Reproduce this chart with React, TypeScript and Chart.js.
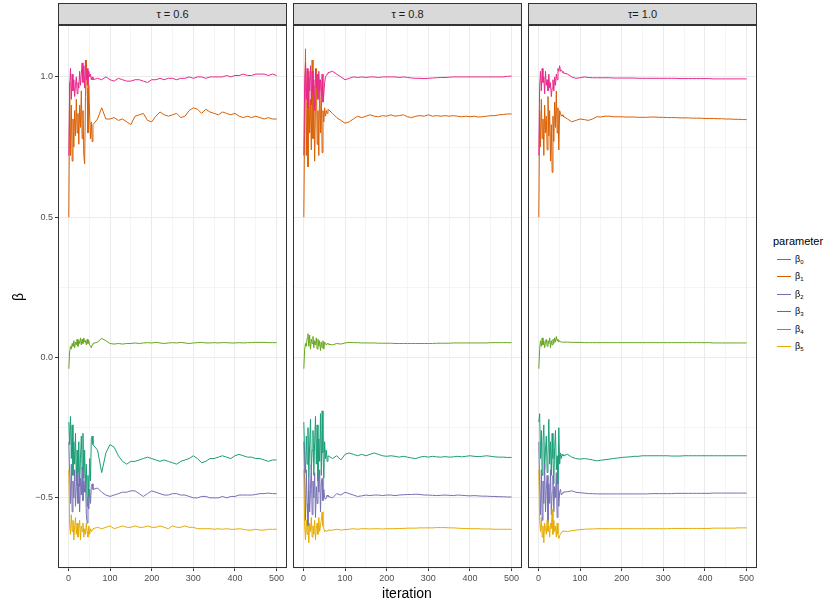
import React, { useEffect, useRef } from "react";
import { Chart, registerables } from "chart.js";

Chart.register(...registerables);

// iteration index (dense early, every 10 later)
const ITERATION = [
  1, 3, 5, 7, 9, 11, 13, 15, 17, 19, 21, 23, 25, 27, 29, 31, 33, 35, 37, 39, 41, 43, 45, 47, 49, 51, 53, 55, 57, 59,
  70, 80, 90, 100, 110, 120, 130, 140, 150, 160,
  170, 180, 190, 200, 210, 220, 230, 240, 250, 260,
  270, 280, 290, 300, 310, 320, 330, 340, 350, 360,
  370, 380, 390, 400, 410, 420, 430, 440, 450, 460,
  470, 480, 490, 500,
];

const PARAMETERS = ["0", "1", "2", "3", "4", "5"];
const COLORS = ["#1B9E77", "#D95F02", "#7570B3", "#E7298A", "#66A61E", "#E6AB02"];
const PANEL_LABELS = ["τ = 0.6", "τ = 0.8", "τ= 1.0"];
const Y_TICKS = [-0.75, -0.5, -0.25, 0, 0.25, 0.5, 0.75, 1.0];
const X_TICKS = [0, 50, 100, 150, 200, 250, 300, 350, 400, 450, 500];

// ---- tau = 0.6 ----
const T06_B0 = [
  -0.23, -0.31, -0.21, -0.36, -0.24, -0.42, -0.30, -0.38, -0.27, -0.44,
  -0.33, -0.41, -0.30, -0.46, -0.36, -0.28, -0.40, -0.27, -0.43, -0.33,
  -0.48, -0.38, -0.53, -0.42, -0.50, -0.36, -0.44, -0.29, -0.28, -0.31,
  -0.33, -0.41, -0.34, -0.31, -0.32, -0.35, -0.37, -0.38, -0.37, -0.37,
  -0.365, -0.36, -0.355, -0.36, -0.365, -0.37, -0.365, -0.37, -0.375, -0.38,
  -0.37, -0.365, -0.36, -0.35, -0.36, -0.375, -0.37, -0.36, -0.36, -0.355,
  -0.35, -0.355, -0.36, -0.35, -0.345, -0.35, -0.355, -0.355, -0.36, -0.36,
  -0.365, -0.37, -0.365, -0.365,
];
const T06_B1 = [
  0.50, 0.98, 0.72, 0.90, 0.70, 0.85, 0.75, 0.88, 0.79, 0.92,
  0.80, 0.87, 0.76, 0.90, 0.82, 0.95, 0.78, 0.88, 0.72, 0.69,
  0.93, 1.06, 0.96, 0.80, 0.97, 0.86, 0.78, 0.84, 0.77, 0.83,
  0.85, 0.89, 0.85, 0.85, 0.855, 0.845, 0.85, 0.84, 0.83, 0.86,
  0.865, 0.87, 0.845, 0.84, 0.86, 0.875, 0.865, 0.86, 0.865, 0.87,
  0.855, 0.86, 0.88, 0.89, 0.885, 0.87, 0.885, 0.875, 0.87, 0.865,
  0.875, 0.87, 0.865, 0.87, 0.86, 0.855, 0.86, 0.855, 0.86, 0.855,
  0.85, 0.855, 0.85, 0.85,
];
const T06_B2 = [
  -0.30, -0.42, -0.52, -0.38, -0.55, -0.44, -0.50, -0.40, -0.53, -0.46,
  -0.41, -0.52, -0.45, -0.55, -0.43, -0.49, -0.39, -0.51, -0.44, -0.48,
  -0.42, -0.56, -0.59, -0.50, -0.54, -0.47, -0.52, -0.46, -0.45, -0.47,
  -0.465, -0.48, -0.49, -0.495, -0.49, -0.485, -0.48, -0.48, -0.475, -0.475,
  -0.485, -0.495, -0.485, -0.475, -0.48, -0.485, -0.49, -0.49, -0.485, -0.485,
  -0.49, -0.49, -0.495, -0.5, -0.5, -0.495, -0.495, -0.5, -0.5, -0.5,
  -0.495, -0.5, -0.495, -0.495, -0.49, -0.49, -0.49, -0.49, -0.488, -0.485,
  -0.485, -0.483, -0.485, -0.485,
];
const T06_B3 = [
  0.72, 0.96, 1.03, 0.92, 1.01, 0.95, 0.99, 0.93, 0.97, 1.00,
  0.94, 0.98, 0.96, 1.02, 0.97, 1.01, 1.05, 0.98, 1.04, 0.96,
  1.06, 0.99, 1.03, 0.97, 1.02, 1.00, 1.01, 0.99, 1.00, 0.99,
  0.995, 0.99, 1.0, 0.99, 0.985, 0.995, 0.99, 0.985, 0.985, 0.99,
  0.99, 0.985, 0.98, 0.99, 0.99, 0.995, 0.99, 0.995, 0.995, 0.99,
  0.995, 0.995, 1.0, 0.995, 1.0, 1.0, 0.995, 1.0, 1.0, 1.0,
  1.0, 1.005, 1.0, 1.005, 1.005, 1.01, 1.005, 1.005, 1.01, 1.01,
  1.01, 1.005, 1.01, 1.005,
];
const T06_B4 = [
  -0.04, 0.02, 0.04, 0.03, 0.05, 0.04, 0.06, 0.035, 0.055, 0.045,
  0.065, 0.04, 0.06, 0.05, 0.07, 0.045, 0.065, 0.05, 0.07, 0.055,
  0.06, 0.045, 0.065, 0.05, 0.06, 0.045, 0.04, 0.035, 0.045, 0.05,
  0.055, 0.068, 0.06, 0.05, 0.048, 0.05, 0.048, 0.05, 0.05, 0.052,
  0.05, 0.052, 0.053, 0.052, 0.054, 0.052, 0.05, 0.052, 0.053, 0.052,
  0.054, 0.052, 0.05, 0.052, 0.053, 0.054, 0.052, 0.052, 0.053, 0.052,
  0.053, 0.053, 0.052, 0.052, 0.053, 0.052, 0.053, 0.053, 0.054, 0.054,
  0.054, 0.053, 0.053, 0.053,
];
const T06_B5 = [
  -0.40, -0.60, -0.63, -0.56, -0.62, -0.58, -0.65, -0.60, -0.57, -0.63,
  -0.59, -0.64, -0.61, -0.58, -0.65, -0.60, -0.62, -0.59, -0.64, -0.61,
  -0.63, -0.59, -0.62, -0.64, -0.60, -0.63, -0.61, -0.62, -0.615, -0.61,
  -0.605, -0.61, -0.605, -0.6, -0.61, -0.605, -0.6, -0.605, -0.605, -0.6,
  -0.605, -0.605, -0.6, -0.605, -0.605, -0.6, -0.605, -0.61, -0.6, -0.605,
  -0.605, -0.6, -0.605, -0.605, -0.61, -0.61, -0.61, -0.61, -0.612, -0.61,
  -0.612, -0.61, -0.612, -0.612, -0.61, -0.612, -0.615, -0.615, -0.612, -0.615,
  -0.615, -0.612, -0.612, -0.612,
];

// ---- tau = 0.8 ----
const T08_B0 = [
  -0.23, -0.35, -0.41, -0.28, -0.38, -0.25, -0.43, -0.31, -0.22, -0.40,
  -0.33, -0.26, -0.42, -0.30, -0.21, -0.38, -0.24, -0.44, -0.29, -0.37,
  -0.20, -0.42, -0.19, -0.34, -0.43, -0.30, -0.36, -0.33, -0.37, -0.35,
  -0.36, -0.35, -0.365, -0.345, -0.34, -0.345, -0.35, -0.345, -0.35, -0.345,
  -0.34, -0.345, -0.35, -0.352, -0.35, -0.352, -0.355, -0.352, -0.355, -0.358,
  -0.36, -0.355, -0.352, -0.355, -0.352, -0.354, -0.355, -0.353, -0.355, -0.354,
  -0.352, -0.354, -0.352, -0.35, -0.352, -0.353, -0.352, -0.35, -0.352, -0.354,
  -0.355, -0.355, -0.356, -0.356,
];
const T08_B1 = [
  0.50, 0.85, 1.10, 0.72, 0.95, 0.68, 1.02, 0.80, 0.92, 0.74,
  1.06, 0.78, 0.97, 0.70, 0.90, 1.03, 0.76, 0.88, 0.72, 0.99,
  0.80, 0.93, 0.73, 0.88, 0.84, 0.89, 0.86, 0.88, 0.87, 0.885,
  0.87, 0.855, 0.845, 0.835, 0.84, 0.85, 0.86, 0.855, 0.86, 0.865,
  0.86, 0.858, 0.862, 0.86, 0.865, 0.86, 0.862, 0.865, 0.858, 0.855,
  0.86, 0.862, 0.86, 0.865, 0.86, 0.862, 0.86, 0.862, 0.86, 0.862,
  0.86, 0.858, 0.86, 0.858, 0.86, 0.857, 0.858, 0.86, 0.862, 0.862,
  0.865, 0.866, 0.868, 0.868,
];
const T08_B2 = [
  -0.30, -0.45, -0.58, -0.40, -0.52, -0.60, -0.43, -0.55, -0.47, -0.38,
  -0.56, -0.44, -0.50, -0.41, -0.57, -0.46, -0.52, -0.42, -0.48, -0.40,
  -0.55, -0.45, -0.43, -0.51, -0.47, -0.50, -0.505, -0.50, -0.49, -0.495,
  -0.5, -0.485, -0.49, -0.48, -0.485, -0.49, -0.495, -0.493, -0.49, -0.492,
  -0.49, -0.49, -0.492, -0.49, -0.49, -0.492, -0.49, -0.489, -0.488, -0.488,
  -0.487, -0.488, -0.49, -0.49, -0.491, -0.492, -0.491, -0.49, -0.491, -0.492,
  -0.49, -0.491, -0.492, -0.493, -0.492, -0.493, -0.494, -0.494, -0.495, -0.495,
  -0.496, -0.496, -0.497, -0.497,
];
const T08_B3 = [
  0.72, 0.98, 1.05, 0.92, 1.03, 0.89, 1.00, 0.95, 1.04, 0.90,
  1.02, 0.94, 0.99, 0.88, 1.03, 0.96, 1.01, 0.92, 1.02, 0.95,
  0.99, 0.93, 1.01, 0.91, 0.94, 0.98, 1.0, 1.005, 1.01, 1.015,
  1.02, 1.01, 1.0, 0.99, 0.995, 1.0, 0.998, 1.0, 0.998, 1.0,
  1.0, 0.998, 1.0, 1.0, 1.0, 1.0, 0.998, 1.0, 0.998, 0.996,
  0.995, 0.995, 0.994, 0.995, 0.996, 0.997, 0.998, 0.998, 0.999, 1.0,
  1.0, 1.0, 1.0, 1.0, 1.0, 1.0, 1.0, 1.0, 1.0, 1.0,
  1.0, 1.0, 1.002, 1.003,
];
const T08_B4 = [
  -0.04, 0.03, 0.05, 0.04, 0.07, 0.085, 0.04, 0.08, 0.03, 0.065,
  0.05, 0.075, 0.035, 0.06, 0.045, 0.07, 0.03, 0.065, 0.04, 0.06,
  0.025, 0.055, 0.035, 0.06, 0.03, 0.055, 0.05, 0.045, 0.05, 0.048,
  0.045, 0.05, 0.048, 0.052, 0.054, 0.053, 0.053, 0.052, 0.052, 0.052,
  0.052, 0.051, 0.051, 0.051, 0.051, 0.05, 0.05, 0.05, 0.05, 0.05,
  0.05, 0.05, 0.05, 0.05, 0.05, 0.051, 0.051, 0.051, 0.051, 0.052,
  0.052, 0.052, 0.052, 0.052, 0.052, 0.052, 0.052, 0.052, 0.053, 0.053,
  0.053, 0.053, 0.053, 0.053,
];
const T08_B5 = [
  -0.40, -0.60, -0.65, -0.58, -0.63, -0.60, -0.66, -0.59, -0.62, -0.57,
  -0.64, -0.60, -0.63, -0.58, -0.65, -0.61, -0.59, -0.63, -0.57, -0.62,
  -0.60, -0.58, -0.55, -0.60, -0.61, -0.62, -0.615, -0.62, -0.618, -0.615,
  -0.615, -0.612, -0.615, -0.613, -0.612, -0.61, -0.612, -0.61, -0.61, -0.611,
  -0.61, -0.61, -0.611, -0.61, -0.61, -0.61, -0.609, -0.609, -0.608, -0.608,
  -0.608, -0.607, -0.607, -0.607, -0.607, -0.606, -0.606, -0.606, -0.607, -0.607,
  -0.608, -0.609, -0.609, -0.61, -0.61, -0.61, -0.611, -0.611, -0.611, -0.612,
  -0.612, -0.612, -0.612, -0.612,
];

// ---- tau = 1.0 ----
const T10_B0 = [
  -0.23, -0.20, -0.36, -0.26, -0.42, -0.30, -0.24, -0.40, -0.33, -0.28,
  -0.41, -0.35, -0.22, -0.38, -0.30, -0.42, -0.27, -0.36, -0.45, -0.32,
  -0.26, -0.40, -0.35, -0.45, -0.25, -0.38, -0.34, -0.36, -0.345, -0.35,
  -0.345, -0.355, -0.36, -0.362, -0.36, -0.362, -0.365, -0.368, -0.366, -0.364,
  -0.362, -0.36, -0.358, -0.356, -0.355, -0.354, -0.352, -0.352, -0.35, -0.35,
  -0.35, -0.35, -0.35, -0.35, -0.35, -0.351, -0.351, -0.351, -0.35, -0.35,
  -0.35, -0.35, -0.35, -0.35, -0.35, -0.35, -0.35, -0.35, -0.35, -0.35,
  -0.35, -0.35, -0.35, -0.35,
];
const T10_B1 = [
  0.50, 0.88, 0.75, 0.92, 0.78, 0.85, 0.72, 0.90, 0.80, 0.86,
  0.74, 0.93, 0.79, 0.88, 0.70, 0.83, 0.66, 0.86, 0.77, 0.91,
  0.82, 0.95, 0.80, 0.89, 0.74, 0.88, 0.87, 0.86, 0.865, 0.86,
  0.85, 0.84, 0.845, 0.85, 0.848, 0.845, 0.85, 0.858, 0.857, 0.86,
  0.86, 0.858, 0.858, 0.858, 0.857, 0.857, 0.857, 0.856, 0.856, 0.856,
  0.857, 0.857, 0.856, 0.856, 0.855, 0.855, 0.855, 0.854, 0.854, 0.854,
  0.853, 0.853, 0.853, 0.852, 0.852, 0.852, 0.851, 0.851, 0.85, 0.85,
  0.849, 0.849, 0.848, 0.848,
];
const T10_B2 = [
  -0.30, -0.46, -0.56, -0.40, -0.58, -0.44, -0.52, -0.38, -0.55, -0.47,
  -0.42, -0.59, -0.45, -0.52, -0.40, -0.56, -0.48, -0.42, -0.55, -0.46,
  -0.50, -0.41, -0.57, -0.44, -0.53, -0.48, -0.47, -0.49, -0.485, -0.48,
  -0.478, -0.475, -0.48, -0.482, -0.483, -0.485, -0.485, -0.486, -0.486, -0.486,
  -0.486, -0.486, -0.486, -0.486, -0.486, -0.486, -0.486, -0.486, -0.486, -0.486,
  -0.485, -0.485, -0.485, -0.485, -0.485, -0.485, -0.484, -0.484, -0.484, -0.484,
  -0.484, -0.484, -0.484, -0.484, -0.484, -0.483, -0.483, -0.483, -0.483, -0.483,
  -0.483, -0.483, -0.483, -0.483,
];
const T10_B3 = [
  0.72, 0.97, 1.02, 0.95, 1.03, 0.98, 1.00, 0.94, 1.02, 0.97,
  0.99, 0.95, 1.01, 0.96, 0.98, 0.93, 0.96, 0.99, 0.95, 1.00,
  0.97, 1.01, 0.99, 1.03, 1.02, 1.04, 1.02, 1.025, 1.02, 1.015,
  1.01, 1.0, 0.995, 0.997, 1.0, 0.998, 0.997, 0.997, 0.997, 0.997,
  0.997, 0.996, 0.996, 0.996, 0.996, 0.996, 0.996, 0.995, 0.995, 0.995,
  0.995, 0.995, 0.995, 0.995, 0.995, 0.995, 0.995, 0.994, 0.994, 0.994,
  0.994, 0.994, 0.994, 0.994, 0.994, 0.993, 0.993, 0.993, 0.993, 0.993,
  0.993, 0.993, 0.993, 0.993,
];
const T10_B4 = [
  -0.04, 0.03, 0.06, 0.04, 0.07, 0.045, 0.06, 0.035, 0.055, 0.065,
  0.04, 0.06, 0.05, 0.07, 0.035, 0.06, 0.045, 0.065, 0.05, 0.07,
  0.055, 0.075, 0.06, 0.065, 0.055, 0.06, 0.056, 0.055, 0.055, 0.055,
  0.055, 0.054, 0.054, 0.054, 0.053, 0.053, 0.053, 0.053, 0.053, 0.053,
  0.053, 0.053, 0.053, 0.053, 0.053, 0.053, 0.053, 0.053, 0.053, 0.053,
  0.053, 0.053, 0.053, 0.053, 0.053, 0.053, 0.053, 0.053, 0.053, 0.053,
  0.053, 0.053, 0.053, 0.053, 0.053, 0.052, 0.052, 0.052, 0.052, 0.052,
  0.052, 0.052, 0.052, 0.052,
];
const T10_B5 = [
  -0.40, -0.58, -0.62, -0.57, -0.64, -0.60, -0.66, -0.59, -0.61, -0.63,
  -0.58, -0.62, -0.60, -0.64, -0.59, -0.61, -0.54, -0.63, -0.58, -0.62,
  -0.60, -0.64, -0.59, -0.63, -0.645, -0.635, -0.63, -0.625, -0.62, -0.618,
  -0.62, -0.617, -0.615, -0.613, -0.612, -0.611, -0.611, -0.61, -0.61, -0.61,
  -0.61, -0.61, -0.61, -0.61, -0.61, -0.61, -0.61, -0.61, -0.61, -0.61,
  -0.61, -0.61, -0.61, -0.61, -0.61, -0.609, -0.609, -0.609, -0.609, -0.609,
  -0.609, -0.609, -0.609, -0.609, -0.609, -0.608, -0.608, -0.608, -0.608, -0.608,
  -0.608, -0.607, -0.607, -0.607,
];

const PANEL_SERIES = [
  [T06_B0, T06_B1, T06_B2, T06_B3, T06_B4, T06_B5],
  [T08_B0, T08_B1, T08_B2, T08_B3, T08_B4, T08_B5],
  [T10_B0, T10_B1, T10_B2, T10_B3, T10_B4, T10_B5],
];

const FONT = "'Liberation Sans', Arial, Helvetica, sans-serif";

// geometry of the panels (page pixels)
const PANELS = [
  { canvasLeft: 0, width: 288, yAxisWidth: 58, padLeft: 0, padRight: 1, plotLeft: 58, plotRight: 287 },
  { canvasLeft: 292, width: 231, yAxisWidth: 0, padLeft: 1, padRight: 1, plotLeft: 293, plotRight: 522 },
  { canvasLeft: 527, width: 231, yAxisWidth: 0, padLeft: 1, padRight: 1, plotLeft: 528, plotRight: 757 },
];
const CANVAS_TOP = 24;
const CANVAS_HEIGHT = 564;

const isMajorY = (v: number) => Math.abs(v * 2 - Math.round(v * 2)) < 1e-6;
const isMajorX = (v: number) => v % 100 === 0;

const borderPlugin = {
  id: "panelBorder",
  afterDraw(chart: any) {
    const { ctx, chartArea: a } = chart;
    ctx.save();
    ctx.strokeStyle = "#333333";
    ctx.lineWidth = 1;
    ctx.strokeRect(
      Math.round(a.left) + 0.5,
      Math.round(a.top) + 0.5,
      Math.round(a.right - a.left) - 1,
      Math.round(a.bottom - a.top) - 1
    );
    ctx.restore();
  },
};

const zeroPadding = (s: any) => {
  s.paddingTop = 0;
  s.paddingBottom = 0;
  s.paddingLeft = 0;
  s.paddingRight = 0;
};

function Panel({ index }: { index: number }) {
  const ref = useRef<HTMLCanvasElement | null>(null);
  const geo = PANELS[index];
  useEffect(() => {
    if (!ref.current) return;
    const showY = index === 0;
    const datasets = PANEL_SERIES[index].map((values, i) => ({
      label: "β" + PARAMETERS[i],
      data: ITERATION.map((x, k) => ({ x, y: values[k] })),
      borderColor: COLORS[i],
      backgroundColor: COLORS[i],
      borderWidth: 1,
      pointRadius: 0,
      tension: 0,
      fill: false,
      order: 5 - i,
    }));
    const chart = new Chart(ref.current, {
      type: "line",
      data: { datasets },
      options: {
        animation: false,
        responsive: false,
        events: [],
        layout: { padding: { left: geo.padLeft, right: geo.padRight, top: 1, bottom: 0 } },
        plugins: { legend: { display: false }, tooltip: { enabled: false }, title: { display: false } },
        scales: {
          x: {
            type: "linear",
            min: -25,
            max: 525,
            afterBuildTicks: (s: any) => {
              s.ticks = X_TICKS.map((v) => ({ value: v }));
            },
            afterFit: (s: any) => {
              s.height = 20;
              zeroPadding(s);
            },
            border: { display: false },
            grid: {
              color: "#EBEBEB",
              lineWidth: (c: any) => (isMajorX(c.tick.value) ? 1 : 0.5),
              tickLength: 3,
              tickColor: (c: any) => (isMajorX(c.tick.value) ? "#333333" : "rgba(0,0,0,0)"),
              tickWidth: 1,
            },
            ticks: {
              autoSkip: false,
              maxRotation: 0,
              padding: 2,
              color: "#4D4D4D",
              font: { family: FONT, size: 9 },
              callback: (v: any) => (isMajorX(Number(v)) ? String(v) : ""),
            },
          },
          y: {
            type: "linear",
            min: -0.75,
            max: 1.185,
            afterBuildTicks: (s: any) => {
              s.ticks = Y_TICKS.map((v) => ({ value: v }));
            },
            afterFit: (s: any) => {
              s.width = geo.yAxisWidth;
              zeroPadding(s);
            },
            border: { display: false },
            grid: {
              color: "#EBEBEB",
              lineWidth: (c: any) => (isMajorY(c.tick.value) ? 1 : 0.5),
              drawTicks: showY,
              tickLength: showY ? 3 : 0,
              tickColor: (c: any) => (isMajorY(c.tick.value) ? "#333333" : "rgba(0,0,0,0)"),
              tickWidth: 1,
            },
            ticks: {
              display: showY,
              autoSkip: false,
              padding: 2,
              color: "#4D4D4D",
              font: { family: FONT, size: 9 },
              callback: (v: any) => {
                const n = Number(v);
                if (!isMajorY(n)) return "";
                return n.toFixed(1).replace("-", "\u2212");
              },
            },
          },
        },
      },
      plugins: [borderPlugin],
    } as any);
    return () => chart.destroy();
  }, [index]);
  return (
    <canvas
      ref={ref}
      width={geo.width}
      height={CANVAS_HEIGHT}
      style={{ position: "absolute", left: geo.canvasLeft, top: CANVAS_TOP, width: geo.width, height: CANVAS_HEIGHT }}
    />
  );
}

function Strip({ index }: { index: number }) {
  const geo = PANELS[index];
  return (
    <div
      style={{
        position: "absolute",
        left: geo.plotLeft,
        top: 3,
        width: geo.plotRight - geo.plotLeft,
        height: 22,
        boxSizing: "border-box",
        background: "#D9D9D9",
        border: "1px solid #333333",
        color: "#1A1A1A",
        fontFamily: FONT,
        fontSize: 11,
        lineHeight: "20px",
        textAlign: "center",
      }}
    >
      {PANEL_LABELS[index]}
    </div>
  );
}

export default function App() {
  return (
    <div
      style={{
        position: "fixed",
        left: 0,
        top: 0,
        width: 827,
        height: 606,
        background: "#FFFFFF",
        overflow: "hidden",
        fontFamily: FONT,
      }}
    >
      {[0, 1, 2].map((i) => (
        <Strip key={"s" + i} index={i} />
      ))}
      {[0, 1, 2].map((i) => (
        <Panel key={"p" + i} index={i} />
      ))}
      {/* y title */}
      <div
        style={{
          position: "absolute",
          left: 18,
          top: 297,
          transform: "translate(-50%, -50%) rotate(-90deg)",
          fontSize: 14,
          color: "#000",
          whiteSpace: "nowrap",
        }}
      >
        β
      </div>
      {/* x title */}
      <div
        style={{
          position: "absolute",
          left: 407,
          top: 593,
          transform: "translate(-50%, -50%)",
          fontSize: 14,
          color: "#000",
          whiteSpace: "nowrap",
        }}
      >
        iteration
      </div>
      {/* legend */}
      <div style={{ position: "absolute", left: 773, top: 235, fontSize: 11, color: "#000", lineHeight: "13px" }}>
        parameter
      </div>
      {PARAMETERS.map((p, i) => (
        <div
          key={p}
          style={{ position: "absolute", left: 775, top: Math.round(251 + i * 17.4), height: 17, width: 52 }}
        >
          <div
            style={{ position: "absolute", left: 2, top: 8, width: 14, height: 1, background: COLORS[i] }}
          />
          <div
            style={{
              position: "absolute",
              left: 20,
              top: 2,
              fontSize: 9,
              color: "#000",
              lineHeight: "12px",
              whiteSpace: "nowrap",
            }}
          >
            β<span style={{ fontSize: 6, position: "relative", top: 2 }}>{p}</span>
          </div>
        </div>
      ))}
    </div>
  );
}
